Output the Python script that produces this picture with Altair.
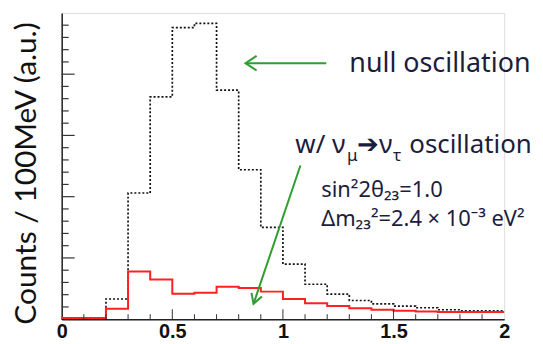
import altair as alt
import pandas as pd

# ---- data ----
bin_edges = [round(0.1 * i, 1) for i in range(21)]  # 0.0 ... 2.0
null_osc = [0, 0, 33, 206, 363, 476, 483, 374, 244, 150, 90, 57, 41, 30.5, 25, 21.4, 18.7, 15.4, 13.8, 13.8]
with_osc = [2, 2, 17, 78, 64.6, 41.4, 43, 53, 51, 45, 33, 26, 21.4, 18, 15.4, 13.8, 12.7, 11.7, 11.7, 11.7]

x_label_values = [0, 0.5, 1, 1.5, 2]
x_minor_ticks = [0.1, 0.2, 0.3, 0.4, 0.6, 0.7, 0.8, 0.9, 1.1, 1.2, 1.3, 1.4, 1.6, 1.7, 1.8, 1.9]
x_major_ticks = [0.5, 1.0, 1.5]
y_minor_ticks = [v for v in range(20, 500, 20) if v % 100 != 0]
y_major_ticks = [100, 200, 300, 400]

y_title = "Counts / 100MeV (a.u.)"

# annotations (data units)
ann_null = {"x": 1.300, "y": 403, "text": "null oscillation"}
arrow_null = {"x": [1.196, 0.831], "y": [418, 418]}
head_null = {"x": [0.881, 0.831, 0.881], "y": [430, 418, 406]}
arrow_osc = {"x": [1.079, 0.867], "y": [251, 25]}
head_osc = {"x": [0.858, 0.867, 0.905], "y": [43, 25, 37]}

osc_segments = [
    {"x": 1.056, "y": 272, "text": "w/ ν", "size": 26, "dy": 0},
    {"x": 1.290, "y": 272, "text": "μ", "size": 17, "dy": 8},
    {"x": 1.335, "y": 272, "text": "➔ν", "size": 26, "dy": 0},
    {"x": 1.497, "y": 272, "text": "τ", "size": 17, "dy": 8},
    {"x": 1.571, "y": 272, "text": "oscillation", "size": 26, "dy": 0},
]
param_lines = [
    {"x": 1.173, "y": 200, "text": "sin²2θ₂₃=1.0"},
    {"x": 1.173, "y": 152, "text": "Δm₂₃²=2.4 × 10⁻³ eV²"},
]

# ---- frames ----
def step_frame(vals):
    return pd.DataFrame({"x": bin_edges, "y": vals + [vals[-1]]})

df_null = step_frame(null_osc)
df_osc = step_frame(with_osc)

X = alt.Scale(domain=[0, 2], nice=False, zero=False)
Y = alt.Scale(domain=[0, 500], nice=False)

TFONT = "Lato"
AFONT = "Noto Sans"
TXT = "#1c1c3c"
GREEN = "#2e9e2e"

base_x = alt.X(
    "x:Q",
    scale=X,
    axis=alt.Axis(
        values=x_label_values,
        format="~g",
        labelFont="Liberation Sans",
        labelFontWeight="bold",
        labelFontSize=20,
        labelColor="#111111",
        labelPadding=2,
        ticks=False,
        grid=False,
        domainColor="#222222",
        domainWidth=1.5,
        labelFlush=False,
        labelOverlap=False,
    ),
    title=None,
)
base_y = alt.Y(
    "y:Q",
    scale=Y,
    axis=alt.Axis(
        labels=False,
        ticks=False,
        grid=False,
        domainColor="#222222",
        domainWidth=1.5,
        title=y_title,
        titleFont=TFONT,
        titleFontSize=30,
        titleFontWeight="normal",
        titleColor="#111111",
        titleX=-35,
        titleY=161,
        titleAlign="center",
        titleBaseline="middle",
        titleAngle=-90,
    ),
)

null_line = alt.Chart(df_null).mark_line(
    interpolate="step-after", color="#111111", strokeWidth=1.7, strokeDash=[2, 2]
).encode(x=base_x, y=base_y)

osc_line = alt.Chart(df_osc).mark_line(
    interpolate="step-after", color="#ff2020", strokeWidth=2
).encode(x=alt.X("x:Q", scale=X), y=alt.Y("y:Q", scale=Y))

def xticks(vals, length):
    return alt.Chart(pd.DataFrame({"x": vals})).mark_rule(color="#333333", strokeWidth=1).encode(
        x=alt.X("x:Q", scale=X), y=alt.value(308), y2=alt.value(308 - length)
    )

def yticks(vals, length):
    return alt.Chart(pd.DataFrame({"y": vals})).mark_rule(color="#333333", strokeWidth=1.2).encode(
        y=alt.Y("y:Q", scale=Y), x=alt.value(0), x2=alt.value(length)
    )

def poly(d, width=2):
    return alt.Chart(pd.DataFrame({"x": d["x"], "y": d["y"], "o": list(range(len(d["x"])))})).mark_line(
        color=GREEN, strokeWidth=width
    ).encode(x=alt.X("x:Q", scale=X), y=alt.Y("y:Q", scale=Y), order="o:Q")

null_text = alt.Chart(pd.DataFrame([ann_null])).mark_text(
    align="left", baseline="alphabetic", font=AFONT, fontSize=27, color=TXT
).encode(x=alt.X("x:Q", scale=X), y=alt.Y("y:Q", scale=Y), text="text:N")

osc_layers = []
for seg in osc_segments:
    osc_layers.append(
        alt.Chart(pd.DataFrame([seg])).mark_text(
            align="left", baseline="alphabetic", font=AFONT, fontSize=seg["size"], color=TXT, dy=seg["dy"]
        ).encode(x=alt.X("x:Q", scale=X), y=alt.Y("y:Q", scale=Y), text="text:N")
    )

param_text = alt.Chart(pd.DataFrame(param_lines)).mark_text(
    align="left", baseline="alphabetic", font=AFONT, fontSize=22, color=TXT
).encode(x=alt.X("x:Q", scale=X), y=alt.Y("y:Q", scale=Y), text="text:N")

chart = alt.layer(
    null_line,
    osc_line,
    xticks(x_minor_ticks, 5),
    xticks(x_major_ticks, 10),
    yticks(y_minor_ticks, 7),
    yticks(y_major_ticks, 13),
    poly(arrow_null),
    poly(head_null),
    poly(arrow_osc),
    poly(head_osc),
    null_text,
    *osc_layers,
    param_text,
).properties(
    width=445,
    height=308,
    autosize=alt.AutoSizeParams(type="none"),
    padding={"left": 54, "top": 4, "right": 31, "bottom": 24},
).configure_view(stroke="#8a8a8a", strokeWidth=1.5).configure(background="white")

chart.save("out.html", embed_options={"renderer": "svg", "actions": False})
